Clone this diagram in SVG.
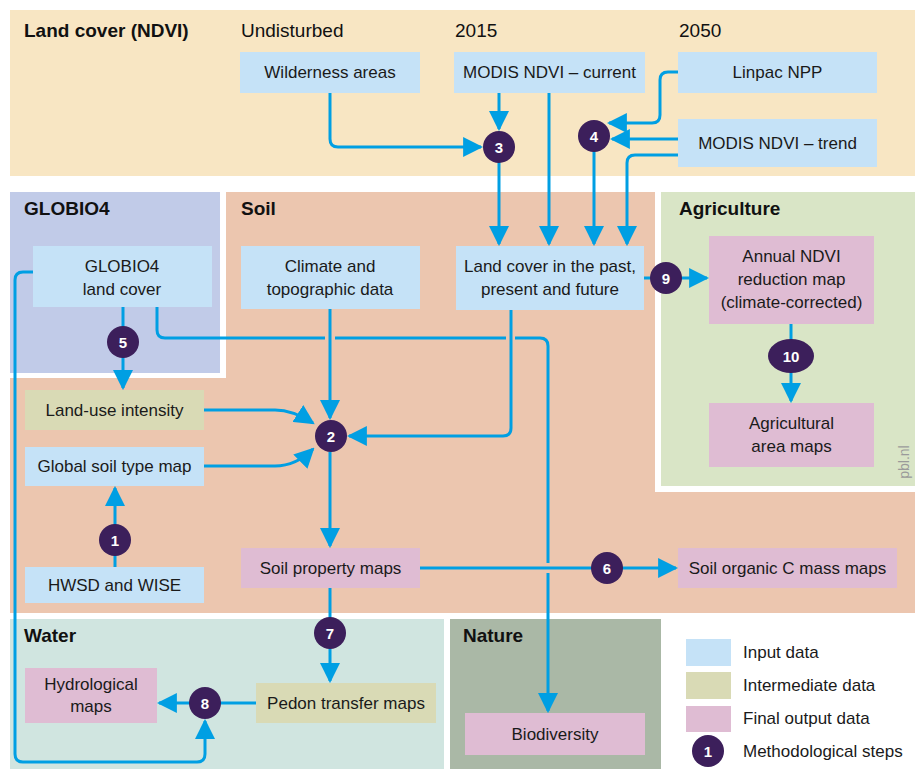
<svg xmlns="http://www.w3.org/2000/svg" width="915" height="769" viewBox="0 0 915 769">
<defs>
<style>
text{font-family:"Liberation Sans",Arial,sans-serif;fill:#1a1a1a}
.t{font-size:17px;text-anchor:middle}
.h{font-size:19px;font-weight:bold;fill:#111}
.sub{font-size:19px;fill:#111}
.lg{font-size:17px}
.n{font-size:15px;font-weight:bold;fill:#fff;text-anchor:middle}
.in{fill:#c5e2f7}
.im{fill:#d9dab5}
.fo{fill:#dfbcd3}
.st{fill:#3c1f5b}
.c{fill:none;stroke:#009fe3;stroke-width:3}
.a{marker-end:url(#ah)}
</style>
<marker id="ah" markerUnits="userSpaceOnUse" markerWidth="20" markerHeight="20" viewBox="0 0 19 19" refX="17" refY="9.5" orient="auto">
<path d="M0,0 L19,9.5 L0,19 z" fill="#009fe3"/>
</marker>
</defs>
<rect width="915" height="769" fill="#fff"/>
<g id="panels">
<rect x="10" y="10" width="905" height="166" fill="#f8e6c3"/>
<polygon points="226,192 655,192 655,492 915,492 915,613 10,613 10,378 226,378" fill="#ecc6af"/>
<rect x="10" y="192" width="210" height="181" fill="#c1cbe8"/>
<rect x="661" y="192" width="254" height="294" fill="#d9e5c6"/>
<rect x="10" y="619" width="434" height="150" fill="#d0e5e0"/>
<rect x="450" y="619" width="211" height="150" fill="#aab8a6"/>
<text class="h" x="24" y="37">Land cover (NDVI)</text>
<text class="sub" x="241" y="37">Undisturbed</text>
<text class="sub" x="455" y="37">2015</text>
<text class="sub" x="679" y="37">2050</text>
<text class="h" x="24" y="215">GLOBIO4</text>
<text class="h" x="241" y="215">Soil</text>
<text class="h" x="679" y="215">Agriculture</text>
<text class="h" x="24" y="642">Water</text>
<text class="h" x="463" y="642">Nature</text>
<text x="0" y="0" transform="translate(909,462) rotate(-90)" style="font-size:14px;fill:#9a9a9a;text-anchor:middle">pbl.nl</text>
</g>
<g id="connectors">
<path class="c a" d="M115,567 V488"/>
<path class="c a" d="M123,307 V388"/>
<path class="c a" d="M204,410 H275 C290,410 302,416 313,423"/>
<path class="c a" d="M204,466 H275 C290,466 302,460 313,449"/>
<path class="c a" d="M330,309 V418"/>
<path class="c a" d="M511,310 V428 Q511,436 503,436 H349"/>
<path class="c a" d="M330,452 V546"/>
<path class="c a" d="M420,568 H676"/>
<path class="c a" d="M330,588 V681"/>
<path class="c a" d="M256,703 H159"/>
<path class="c a" d="M33,272 H23 Q15,272 15,280 V754 Q15,762 23,762 H197 Q205,762 205,754 V721"/>
<g id="c_globio_biodiversity">
<path class="c" d="M157,307 V330 Q157,338 165,338 H325"/>
<path class="c" d="M335,338 H506"/>
<path class="c" d="M515,338 H540 Q548,338 548,346 V563"/>
<path class="c a" d="M548,573 V711"/>
</g>
<path class="c a" d="M330,93 V139 Q330,147 338,147 H481"/>
<path class="c a" d="M499,93 V129"/>
<path class="c a" d="M499,147 V244"/>
<path class="c a" d="M549,93 V244"/>
<path class="c a" d="M594,136 V244"/>
<path class="c a" d="M678,155 H635 Q627,155 627,163 V244"/>
<path class="c a" d="M678,72 H668 Q660,72 660,80 V115 Q660,123 652,123 H609"/>
<path class="c a" d="M678,139 H612"/>
<path class="c a" d="M644,278 H707"/>
<path class="c a" d="M791,324 V401"/>
</g>
<g id="n_wilderness"><rect class="in" x="240" y="52" width="180" height="41"/><text class="t" x="330" y="78">Wilderness areas</text></g>
<g id="n_modis_current"><rect class="in" x="454" y="52" width="191" height="41"/><text class="t" x="549.5" y="78">MODIS NDVI – current</text></g>
<g id="n_linpac"><rect class="in" x="678" y="52" width="199" height="41"/><text class="t" x="777.5" y="78">Linpac NPP</text></g>
<g id="n_modis_trend"><rect class="in" x="678" y="119" width="199" height="48"/><text class="t" x="777.5" y="149">MODIS NDVI – trend</text></g>
<g id="n_globio_lc"><rect class="in" x="33" y="246" width="179" height="61"/><text class="t" x="122" y="272">GLOBIO4</text><text class="t" x="122" y="295">land cover</text></g>
<g id="n_climate"><rect class="in" x="241" y="246" width="179" height="63"/><text class="t" x="330" y="272">Climate and</text><text class="t" x="330" y="295">topographic data</text></g>
<g id="n_landcover"><rect class="in" x="456" y="246" width="188" height="64"/><text class="t" x="550" y="272">Land cover in the past,</text><text class="t" x="550" y="295">present and future</text></g>
<g id="n_annual"><rect class="fo" x="709" y="236" width="165" height="88"/><text class="t" x="791.5" y="262">Annual NDVI</text><text class="t" x="791.5" y="285">reduction map</text><text class="t" x="791.5" y="308">(climate-corrected)</text></g>
<g id="n_agri"><rect class="fo" x="709" y="403" width="165" height="64"/><text class="t" x="791.5" y="429">Agricultural</text><text class="t" x="791.5" y="452">area maps</text></g>
<g id="n_landuse"><rect class="im" x="25" y="390" width="179" height="40"/><text class="t" x="114.5" y="416">Land-use intensity</text></g>
<g id="n_globalsoil"><rect class="in" x="25" y="447" width="179" height="39"/><text class="t" x="114.5" y="472">Global soil type map</text></g>
<g id="n_hwsd"><rect class="in" x="25" y="567" width="179" height="36"/><text class="t" x="114.5" y="591">HWSD and WISE</text></g>
<g id="n_soilprop"><rect class="fo" x="241" y="548" width="179" height="40"/><text class="t" x="330.5" y="574">Soil property maps</text></g>
<g id="n_soilorg"><rect class="fo" x="678" y="548" width="219" height="40"/><text class="t" x="787.5" y="574">Soil organic C mass maps</text></g>
<g id="n_hydro"><rect class="fo" x="25" y="668" width="132" height="55"/><text class="t" x="91" y="690">Hydrological</text><text class="t" x="91" y="712">maps</text></g>
<g id="n_pedon"><rect class="im" x="256" y="683" width="180" height="40"/><text class="t" x="346" y="709">Pedon transfer maps</text></g>
<g id="n_biodiv"><rect class="fo" x="465" y="713" width="180" height="42"/><text class="t" x="555" y="740">Biodiversity</text></g>
<g id="s1"><circle class="st" cx="115" cy="540" r="16"/><text class="n" x="115" y="545.5">1</text></g>
<g id="s2"><circle class="st" cx="331" cy="436" r="16"/><text class="n" x="331" y="441.5">2</text></g>
<g id="s3"><circle class="st" cx="499" cy="147" r="16"/><text class="n" x="499" y="152.5">3</text></g>
<g id="s4"><circle class="st" cx="594" cy="136" r="16"/><text class="n" x="594" y="141.5">4</text></g>
<g id="s5"><circle class="st" cx="123" cy="342" r="16"/><text class="n" x="123" y="347.5">5</text></g>
<g id="s6"><circle class="st" cx="607" cy="568" r="16"/><text class="n" x="607" y="573.5">6</text></g>
<g id="s7"><circle class="st" cx="330" cy="633" r="16"/><text class="n" x="330" y="638.5">7</text></g>
<g id="s8"><circle class="st" cx="205" cy="703" r="16"/><text class="n" x="205" y="708.5">8</text></g>
<g id="s9"><circle class="st" cx="666" cy="278" r="16"/><text class="n" x="666" y="283.5">9</text></g>
<g id="s10"><ellipse class="st" cx="791" cy="356" rx="23" ry="17"/><text class="n" x="791" y="361.5">10</text></g>
<g id="legend">
<rect class="in" x="686" y="639" width="45" height="27"/>
<rect class="im" x="686" y="672" width="45" height="27"/>
<rect class="fo" x="686" y="706" width="45" height="26"/>
<circle class="st" cx="708" cy="751" r="16"/><text class="n" x="708" y="756.5">1</text>
<text class="lg" x="743" y="658">Input data</text>
<text class="lg" x="743" y="691">Intermediate data</text>
<text class="lg" x="743" y="724">Final output data</text>
<text class="lg" x="743" y="757">Methodological steps</text>
</g>
</svg>
